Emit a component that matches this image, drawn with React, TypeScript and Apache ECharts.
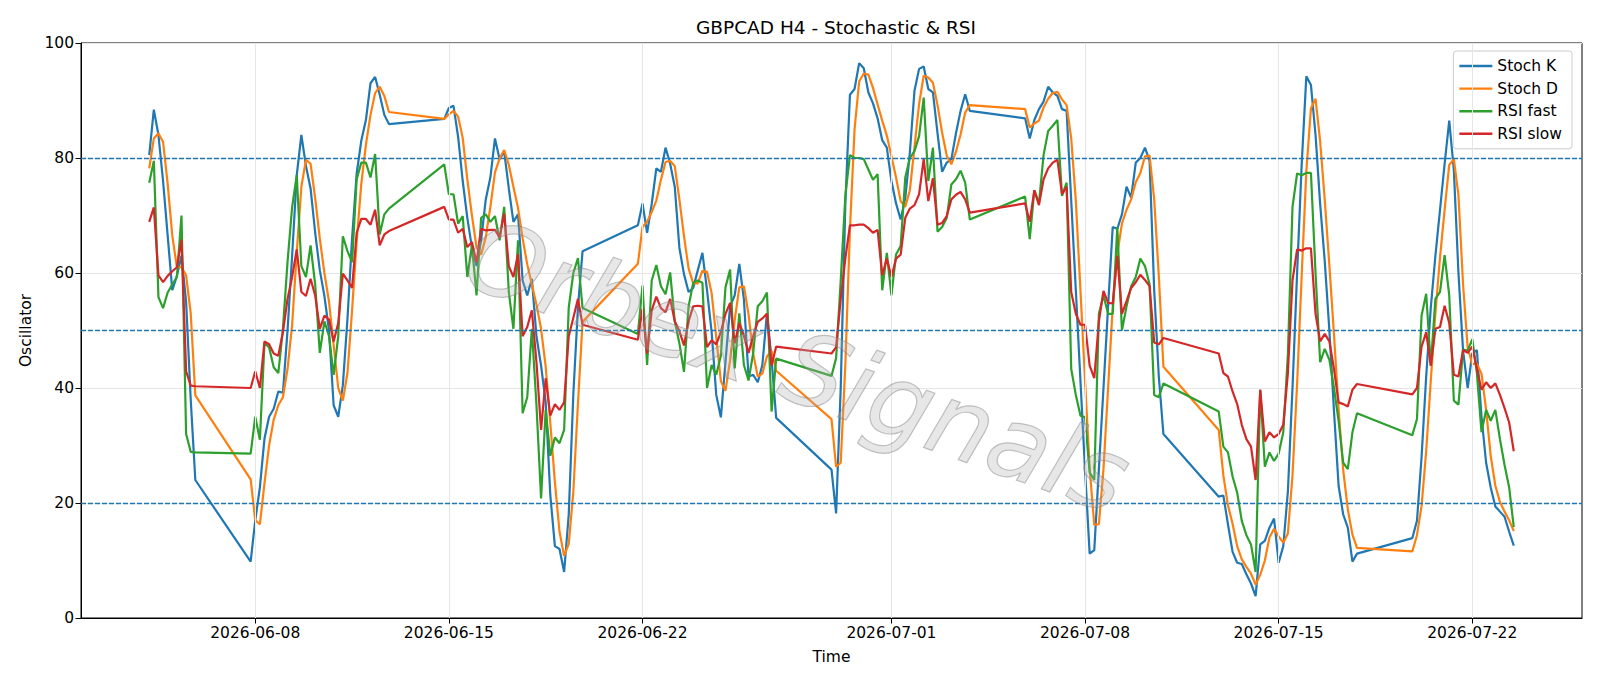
import React, { useEffect, useRef } from "react";
import * as echarts from "echarts";

// H4 bars: each trading week is a continuous run of 4-hour bars
const segmentStarts = [
  "2026-06-04T04:00:00Z",
  "2026-06-07T20:00:00Z",
  "2026-06-14T20:00:00Z",
  "2026-06-21T20:00:00Z",
  "2026-06-28T20:00:00Z",
  "2026-07-05T20:00:00Z",
  "2026-07-12T20:00:00Z",
  "2026-07-19T20:00:00Z",
];
const segmentLengths = [11, 31, 31, 31, 31, 31, 31, 23];

const tickDates = [
  "2026-06-08",
  "2026-06-15",
  "2026-06-22",
  "2026-07-01",
  "2026-07-08",
  "2026-07-15",
  "2026-07-22",
];

const levels = [20, 50, 80];

const stochK = [
  80.5, 88.4, 84, 76, 66.5, 57, 59.5, 63, 55, 38, 24,
  9.8, 17, 22.7, 31.2, 35, 36.4, 39.4, 39.2, 50, 63, 77, 84, 78.6, 74.7, 67, 60.5, 56, 50, 37, 35, 40.5, 52, 66, 77.3, 83, 86.6, 93, 94.1, 91, 87.5, 85.9,
  86.8, 88.7, 89.1, 83.7, 76, 69.6, 64.4, 61.2, 65.7, 72.8, 76.6, 83.4, 79.8, 81.1, 74.7, 68.9, 70.2, 58.7, 56.1, 59, 49, 43.9, 37.5, 21.4, 12.5, 12, 8, 18, 39, 54, 63.8,
  68.3, 72.1, 67, 72, 78.2, 77.6, 81.8, 79, 75, 64.4, 59.8, 56.7, 57.4, 60.5, 63.5, 57, 49.7, 38.8, 34.9, 44.5, 54.2, 56.1, 61.6, 55.4, 42, 42.3, 41, 44, 53, 45, 34.8,
  25.8, 18.2, 40, 72, 91, 92, 96.5, 95.6, 91.4, 89.5, 86.9, 83.1, 81.8, 76, 72.1, 69.3, 73, 81, 91.7, 95.5, 95.9, 92, 91.4, 84.3, 77.6, 79.2, 79.8, 84.3, 88.2, 91.1, 88.2,
  86.9, 83.4, 86.6, 88.5, 89.8, 92.4, 91.4, 90.8, 88.5, 88.2, 72.6, 57, 41.3, 25.7, 11.2, 11.8, 25.9, 40, 54.2, 68, 67.7, 70.2, 75, 73.1, 79.2, 80, 81.8, 79.5, 57, 42, 32,
  21.1, 21.3, 16.3, 11.5, 9.6, 9.4, 7.6, 6, 3.8, 12.8, 13.4, 15.7, 17.3, 9.6, 12.5, 22, 40, 60, 79, 94.2, 92.7, 84, 72, 62, 50, 36, 23, 18, 15.7, 9.8, 11.2,
  13.9, 16.9, 28, 42, 54, 63, 71, 79, 86.5, 77.9, 60, 46.5, 40, 46, 46.6, 35, 27, 22.7, 19.4, 18.5, 17.6, 15, 12.6,
];

const stochD = [
  78.2, 83.4, 84.3, 82.8, 75.5, 66.5, 61, 61, 59.6, 53, 38.7,
  24.1, 17, 16.3, 23.4, 30, 34.5, 37, 38.4, 43.3, 51, 63.5, 75, 79.7, 79, 73, 66, 60, 55, 47.5, 40, 37.8, 42.6, 53.5, 65.5, 75.5, 82.3, 87.5, 91.3, 92.4, 90.8, 88,
  86.8, 87.6, 88.2, 87.2, 83.5, 76.3, 70, 64.5, 63.2, 66.2, 71.5, 77.5, 79.9, 81.4, 78.8, 75, 71.3, 66, 61.5, 58, 54.5, 50.3, 43.7, 34, 23.6, 15, 10.8, 12.9, 22, 37.3, 51.5,
  61.6, 68, 68.9, 70.6, 72.6, 76.2, 79.3, 79.5, 78.6, 72.8, 66.4, 60.8, 58.2, 58.2, 60.4, 60.2, 56.5, 48.8, 41.2, 39.5, 44.8, 51.8, 57.5, 57.7, 52.8, 46, 42, 42.5, 45.5, 46.5, 43,
  34.6, 26.3, 27, 44, 67.5, 85, 93.3, 94.7, 94.5, 92.2, 89.3, 86.5, 83.9, 80.3, 76.6, 72.5, 71.5, 74.4, 81.9, 89.4, 94.3, 94, 93.1, 89.2, 84.4, 80.4, 78.9, 81.1, 84.1, 87.9, 89.2,
  88.5, 85.3, 86, 86.5, 88.8, 90.3, 91.3, 91.5, 90.2, 89.2, 83.4, 72.6, 57, 41.3, 26, 16.2, 16.3, 25.9, 40, 54.1, 63.3, 68.6, 71, 72.8, 75.8, 77.4, 80.3, 80.4, 72.8, 59.5, 43.7,
  32.7, 24.8, 19.6, 16.4, 12.5, 10.2, 8.9, 7.7, 5.8, 7.5, 10, 14, 15.5, 14.2, 13.1, 14.7, 24.8, 40.7, 59.7, 77.7, 88.6, 90.3, 82.9, 72.7, 61.3, 49.3, 36.3, 25.7, 18.9, 14.5, 12.2,
  11.6, 14.4, 19.5, 29, 41.3, 53, 62.7, 71, 78.8, 79.8, 73.5, 58, 47, 44.2, 44.2, 42.5, 36.2, 28.2, 23, 20.2, 18.5, 17, 15.1,
];

const rsiFast = [
  75.7, 79.5, 55.8, 53.9, 56.6, 58, 59.3, 70, 32, 28.9, 28.8,
  28.6, 35, 31, 47.8, 47.1, 43.6, 42.6, 50.3, 61.9, 71.5, 77, 61.2, 59.3, 64.8, 58, 46.1, 51.6, 49, 42.3, 49, 66.4, 63.8, 61.9, 76.3, 79.2, 79.2, 76.6, 80.7, 66.7, 70.2, 71.2,
  78.9, 73.7, 73.7, 68.6, 69.9, 59.3, 64.8, 56.1, 69.6, 70.2, 68.9, 69.9, 65.7, 71.5, 56.7, 50.3, 65.7, 35.6, 38.4, 50.3, 37, 20.8, 36.2, 28.2, 31.4, 30.4, 32.7, 54, 60, 62.6, 53.9,
  49.4, 57.8, 44, 58.7, 61.4, 57.7, 56.3, 60.1, 51.6, 47.8, 42.8, 54.2, 58.3, 58.7, 58.3, 40, 44, 42.3, 45.6, 57.5, 60.6, 43.4, 53, 44, 41.3, 46, 54.2, 55.1, 56.6, 35.9, 45.1,
  42.1, 45.2, 58.7, 73.4, 80.5, 80, 80, 79.8, 78, 76.2, 77.2, 57, 63.5, 56.1, 63.2, 64.7, 76.6, 80, 81.2, 83.8, 90.5, 76, 81.8, 67.2, 68, 69.6, 75.4, 76.3, 77.8, 75.7, 69.3,
  73.3, 65.9, 74.4, 72.1, 80.5, 84.7, 85.6, 86.6, 73.4, 75.7, 43.3, 38.8, 35.2, 34.9, 25.3, 24, 52.9, 56.1, 52.9, 52.9, 68, 50, 54.2, 57.7, 59.3, 62.5, 61.2, 58, 38.8, 38.4, 40.8,
  35.9, 29.8, 28.8, 24.6, 21.8, 16.9, 14.4, 12.8, 8, 39.7, 26.3, 28.8, 27.3, 28.6, 32.3, 45.8, 71.5, 77.3, 77, 77.4, 77.4, 60, 44.5, 46.8, 44.9, 40, 34.3, 27, 25.9, 32.3, 35.6,
  31.8, 34.6, 52.6, 56.4, 43.9, 55.5, 56.7, 63.1, 56.1, 37.8, 37.1, 46.7, 46.5, 48.5, 42.6, 32.3, 36.2, 34.3, 36.2, 31.1, 26.6, 22.7, 15.8,
];

const rsiSlow = [
  68.9, 71.4, 59.6, 58.4, 59.5, 60.3, 61, 65.8, 42.9, 40.4, 40.3,
  40, 42.9, 40, 48.1, 47.6, 46, 45.6, 49.7, 55.5, 59.3, 64.1, 56.7, 56, 59, 56.1, 50.3, 52.6, 51.9, 48.1, 51.3, 59.9, 58.7, 57.4, 67, 69.4, 69.4, 68.4, 71, 64.8, 66.7, 67.3,
  71.5, 69.3, 69.3, 67, 67.7, 64.5, 65.4, 61.8, 67.7, 67.4, 67.5, 67.5, 66.2, 70.3, 61.2, 59.3, 63.3, 49, 50.6, 53.5, 44.5, 32.7, 41.7, 35.2, 37.2, 36.2, 37.5, 49, 52.2, 55.5, 51,
  48.4, 53.8, 46, 53.5, 55.9, 53.9, 53.2, 55.5, 51.6, 49.9, 47.4, 51.6, 54.2, 54.3, 54.2, 47.1, 48.3, 47.6, 49.7, 52.9, 54.8, 47.8, 51.3, 49.1, 46.1, 49, 51.5, 52.1, 52.9, 43.9, 47.2,
  46, 47.1, 55.5, 62.5, 68.3, 68.3, 68.4, 68.4, 67.8, 67, 67.5, 59.6, 62.5, 59.3, 62.5, 63.2, 69.6, 71.2, 71.8, 73.7, 79.8, 72.5, 76.5, 68.4, 68.7, 69.9, 72.8, 73.6, 74.1, 72.8, 70.5,
  72.1, 68.9, 74.4, 71.8, 76.3, 78.2, 79.2, 79.7, 73.7, 75, 56.7, 52.9, 51, 51, 43.9, 41.7, 51.6, 56.9, 54.8, 54.7, 63, 52.9, 55.1, 57.4, 58.4, 59.7, 58.8, 57.7, 47.9, 47.6, 48.7,
  46, 42.6, 42, 39.4, 37.2, 33.6, 31.1, 29.8, 24, 39.7, 30.7, 32.3, 31.4, 32, 33.6, 42.6, 58.7, 64.1, 63.9, 64.3, 64.3, 52.9, 48.1, 49.4, 48.1, 43.3, 37.5, 37.2, 36.8, 39.7, 40.7,
  38.9, 40, 47.2, 49.7, 43.9, 50.3, 50.6, 54.3, 51.3, 42.3, 42, 46.6, 46.1, 47.2, 43.3, 39.7, 41, 40, 40.8, 38.8, 36.5, 34, 29,
];

const seriesNames = ["Stoch K", "Stoch D", "RSI fast", "RSI slow"];
const seriesColors = ["#1f77b4", "#ff7f0e", "#2ca02c", "#d62728"];

const FONT = "DejaVu Sans";
const H4 = 4 * 3600 * 1000;

function buildTimes(): number[] {
  const out: number[] = [];
  segmentStarts.forEach((s, i) => {
    const t0 = Date.parse(s);
    for (let k = 0; k < segmentLengths[i]; k++) out.push(t0 + k * H4);
  });
  return out;
}

export default function App() {
  const ref = useRef<HTMLDivElement>(null);

  useEffect(() => {
    if (!ref.current) return;
    const chart = echarts.init(ref.current, undefined, { renderer: "svg" });
    const times = buildTimes();
    const span = times[times.length - 1] - times[0];
    const xMin = times[0] - 0.05 * span;
    const xMax = times[times.length - 1] + 0.05 * span;
    const tickVals = tickDates.map((d) => Date.parse(d + "T00:00:00Z"));
    const allSeries = [stochK, stochD, rsiFast, rsiSlow];

    const dataSeries = allSeries.map((arr, i) => ({
      name: seriesNames[i],
      type: "line",
      data: times.map((t, j) => [t, arr[j]]),
      showSymbol: false,
      symbol: "none",
      lineStyle: { width: 2.2, color: seriesColors[i] },
      itemStyle: { color: seriesColors[i] },
      z: 2,
      silent: true,
    }));

    const option: any = {
      animation: false,
      backgroundColor: "#ffffff",
      title: {
        text: "GBPCAD H4 - Stochastic & RSI",
        left: 831,
        top: 13,
        textAlign: "center",
        textStyle: { fontFamily: FONT, fontSize: 18.5, fontWeight: "normal", color: "#000" },
      },
      legend: {
        data: seriesNames,
        orient: "vertical",
        right: 28,
        top: 51,
        icon: "rect",
        itemWidth: 33,
        itemHeight: 2.4,
        itemGap: 6.6,
        padding: [7, 10, 7, 6],
        backgroundColor: "#ffffff",
        borderColor: "#cccccc",
        borderWidth: 1,
        borderRadius: 3,
        textStyle: { fontFamily: FONT, fontSize: 15.5, color: "#000" },
      },
      grid: {
        left: 81,
        right: 18,
        top: 43,
        bottom: 68,
        show: true,
        borderColor: "#000",
        borderWidth: 1,
        backgroundColor: "transparent",
      },
      xAxis: {
        type: "value",
        min: xMin,
        max: xMax,
        name: "Time",
        nameLocation: "middle",
        nameGap: 31,
        nameTextStyle: { fontFamily: FONT, fontSize: 15.5, color: "#000" },
        axisLine: { show: true, lineStyle: { color: "#000", width: 1 } },
        axisTick: { show: true, length: 5.5, lineStyle: { color: "#000" }, customValues: tickVals },
        axisLabel: {
          customValues: tickVals,
          fontFamily: FONT,
          fontSize: 15.5,
          color: "#000",
          margin: 7,
          formatter: (v: number) => new Date(v).toISOString().slice(0, 10),
        },
        splitLine: { show: false },
      },
      yAxis: {
        type: "value",
        min: 0,
        max: 100,
        interval: 20,
        name: "Oscillator",
        nameLocation: "middle",
        nameGap: 47,
        nameTextStyle: { fontFamily: FONT, fontSize: 15.5, color: "#000" },
        axisLine: { show: true, lineStyle: { color: "#000", width: 1 } },
        axisTick: { show: true, length: 5.5, lineStyle: { color: "#000" } },
        axisLabel: { fontFamily: FONT, fontSize: 15.5, color: "#000", margin: 7 },
        splitLine: { show: true, lineStyle: { color: "#e6e6e6", width: 1 } },
      },
      graphic: [
        {
          type: "text",
          x: 797,
          y: 366,
          rotation: -0.34,
          z: 50,
          silent: true,
          style: {
            text: "Orbex Signals",
            fill: "rgba(175,175,175,0.3)",
            stroke: "rgba(120,120,120,0.45)",
            lineWidth: 1.2,
            font: "italic 200 100px 'DejaVu Sans'",
            align: "center",
            verticalAlign: "middle",
          },
        },
      ],
      series: [
        {
          name: "_vgrid",
          type: "line",
          data: [],
          silent: true,
          z: 1,
          markLine: {
            silent: true,
            symbol: ["none", "none"],
            label: { show: false },
            lineStyle: { color: "#e6e6e6", type: "solid", width: 1 },
            data: tickVals.map((v) => ({ xAxis: v })),
          },
        },
        ...dataSeries,
        {
          name: "_levels",
          type: "line",
          data: [],
          silent: true,
          z: 3,
          markLine: {
            silent: true,
            symbol: ["none", "none"],
            label: { show: false },
            lineStyle: { color: "#1f77b4", type: [5, 2], width: 1.3 },
            data: levels.map((v) => ({ yAxis: v })),
          },
        },
      ],
    };

    chart.setOption(option);
    return () => chart.dispose();
  }, []);

  return (
    <div
      ref={ref}
      style={{ position: "fixed", left: 0, top: 0, width: 1600, height: 686, background: "#fff" }}
    />
  );
}
